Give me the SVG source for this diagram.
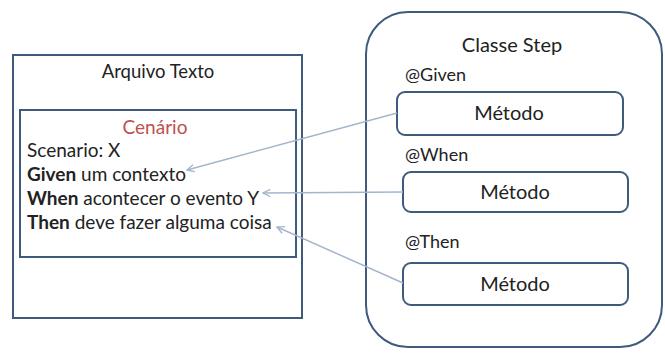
<svg xmlns="http://www.w3.org/2000/svg" width="665" height="354" viewBox="0 0 665 354">
<defs>
<style>
.box{fill:#fff;stroke:#3e5a7c;stroke-width:2}
.t{font-family:Lato,"Liberation Sans",sans-serif;font-size:19px;fill:#222}
.c{text-anchor:middle}
.b{font-weight:bold}
.red{fill:#c0504d}
.lg{font-size:20px}
.sm{font-size:18px}
.conn{stroke:#a3b6cc;stroke-width:1.5;fill:none;marker-end:url(#ah)}
</style>
<marker id="ah" viewBox="0 0 10 10" refX="9" refY="5" markerWidth="9" markerHeight="9" markerUnits="userSpaceOnUse" orient="auto">
<path d="M1,1 L9,5 L1,9" fill="none" stroke="#a3b6cc" stroke-width="1.5"/>
</marker>
</defs>
<rect width="665" height="354" fill="#fff"/>
<g id="arquivo">
<rect class="box" x="13" y="55" width="289" height="263"/>
<text class="t c" x="158" y="78" style="font-size:18.5px">Arquivo Texto</text>
</g>
<g id="cenario">
<rect class="box" x="20" y="110" width="276" height="147"/>
<text class="t c red" x="155" y="134">Cenário</text>
<text class="t" x="27" y="157">Scenario: X</text>
<text class="t" x="27" y="181"><tspan class="b">Given</tspan> um contexto</text>
<text class="t" x="27" y="205"><tspan class="b">When</tspan> acontecer o evento Y</text>
<text class="t" x="27" y="229"><tspan class="b">Then</tspan> deve fazer alguma coisa</text>
</g>
<g id="classe">
<rect class="box" x="366" y="12" width="296" height="335" rx="42" ry="42"/>
<text class="t c lg" x="512" y="52">Classe Step</text>
<text class="t sm" x="405" y="81">@Given</text>
<text class="t sm" x="405" y="161">@When</text>
<text class="t sm" x="405" y="248">@Then</text>
</g>
<g id="metodo1">
<rect class="box" x="397" y="92" width="226" height="43" rx="8"/>
<text class="t c lg" x="509" y="120">Método</text>
</g>
<g id="metodo2">
<rect class="box" x="403" y="172" width="225" height="40" rx="8"/>
<text class="t c lg" x="515" y="199">Método</text>
</g>
<g id="metodo3">
<rect class="box" x="403" y="263" width="225" height="42" rx="8"/>
<text class="t c lg" x="515" y="291">Método</text>
</g>
<g id="connectors">
<line class="conn" x1="397" y1="113" x2="187" y2="170"/>
<line class="conn" x1="403" y1="192" x2="263" y2="193"/>
<line class="conn" x1="403" y1="283" x2="277" y2="227"/>
</g>
</svg>
